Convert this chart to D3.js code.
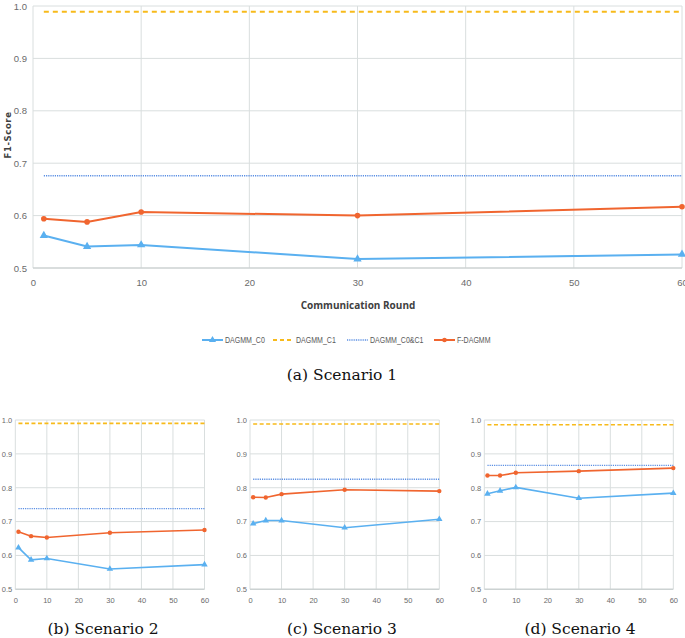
<!DOCTYPE html>
<html>
<head>
<meta charset="utf-8">
<script src="https://cdn.jsdelivr.net/npm/d3@7"></script>
<style>
  html, body { margin: 0; padding: 0; background: #fff; }
  svg { display: block; }
</style>
</head>
<body>
<svg id="chart" width="685" height="638"></svg>
<script>
// ---------- data ----------
const rounds = [1, 5, 10, 30, 60];
const xTicks = [0, 10, 20, 30, 40, 50, 60];
const yTicks = [0.5, 0.6, 0.7, 0.8, 0.9, 1.0];
const seriesNames = ["DAGMM_C0", "DAGMM_C1", "DAGMM_C0&C1", "F-DAGMM"];
const captions = ["(a) Scenario 1", "(b) Scenario 2", "(c) Scenario 3", "(d) Scenario 4"];

const c0_s1 = [0.562, 0.541, 0.544, 0.517, 0.526];
const f_s1  = [0.594, 0.588, 0.607, 0.600, 0.617];
const c1_s1 = 0.989;
const c01_s1 = 0.676;

const c0_s2 = [0.623, 0.587, 0.591, 0.560, 0.573];
const f_s2  = [0.670, 0.657, 0.653, 0.667, 0.675];
const c1_s2 = 0.990;
const c01_s2 = 0.738;

const c0_s3 = [0.694, 0.703, 0.703, 0.682, 0.707];
const f_s3  = [0.772, 0.771, 0.781, 0.794, 0.790];
const c1_s3 = 0.988;
const c01_s3 = 0.825;

const c0_s4 = [0.782, 0.791, 0.801, 0.769, 0.784];
const f_s4  = [0.836, 0.836, 0.844, 0.849, 0.858];
const c1_s4 = 0.986;
const c01_s4 = 0.866;

// ---------- styles ----------
const colC0 = "#5AB0F0";
const colC1 = "#F7BA1B";
const colC01 = "#5B8FE3";
const colF = "#F0652F";
const gridCol = "#D9DEDE";
const tickFont = "'Liberation Sans', Arial, sans-serif";
const tickCol = "#6b6b6b";

const svg = d3.select("#chart");

function drawPanel(o) {
  const x = d3.scaleLinear().domain([0, 60]).range([o.left, o.right]);
  const y = d3.scaleLinear().domain([0.5, 1.0]).range([o.bottom, o.top]);
  const g = svg.append("g");

  // grid
  g.append("g").selectAll("line").data(yTicks.slice(1)).join("line")
    .attr("x1", o.left).attr("x2", o.right)
    .attr("y1", d => y(d)).attr("y2", d => y(d))
    .attr("stroke", gridCol).attr("stroke-width", 1);
  g.append("g").selectAll("line").data(xTicks).join("line")
    .attr("x1", d => x(d)).attr("x2", d => x(d))
    .attr("y1", o.top).attr("y2", o.bottom)
    .attr("stroke", gridCol).attr("stroke-width", 1);
  // bottom axis line
  g.append("line").attr("x1", o.left).attr("x2", o.right)
    .attr("y1", o.bottom).attr("y2", o.bottom)
    .attr("stroke", "#CCD2D2").attr("stroke-width", 1.6);

  // tick labels via d3 axes
  const xAxis = d3.axisBottom(x).tickValues(xTicks).tickFormat(d3.format("d")).tickSize(0).tickPadding(o.xPad);
  const yAxis = d3.axisLeft(y).tickValues(yTicks).tickFormat(d3.format(".1f")).tickSize(0).tickPadding(o.yPad);
  const gx = g.append("g").attr("transform", `translate(0,${o.bottom})`).call(xAxis);
  const gy = g.append("g").attr("transform", `translate(${o.left},0)`).call(yAxis);
  [gx, gy].forEach(a => {
    a.select(".domain").remove();
    a.selectAll("text").attr("font-family", tickFont).attr("font-size", o.fs).attr("fill", tickCol);
  });

  // constant lines
  g.append("line").attr("x1", x(rounds[0])).attr("x2", x(rounds[rounds.length - 1]))
    .attr("y1", y(o.c1)).attr("y2", y(o.c1))
    .attr("stroke", colC1).attr("stroke-width", o.lw).attr("stroke-dasharray", o.dash);
  g.append("line").attr("x1", x(rounds[0])).attr("x2", x(rounds[rounds.length - 1]))
    .attr("y1", y(o.c01)).attr("y2", y(o.c01))
    .attr("stroke", colC01).attr("stroke-width", o.lw * 0.8).attr("stroke-dasharray", "1.2,1");

  const line = d3.line().x((d, i) => x(rounds[i])).y(d => y(d));
  // F-DAGMM
  g.append("path").datum(o.f).attr("d", line).attr("fill", "none")
    .attr("stroke", colF).attr("stroke-width", o.lw);
  g.append("g").selectAll("circle").data(o.f).join("circle")
    .attr("cx", (d, i) => x(rounds[i])).attr("cy", d => y(d)).attr("r", o.mr)
    .attr("fill", colF);
  // C0
  g.append("path").datum(o.c0).attr("d", line).attr("fill", "none")
    .attr("stroke", colC0).attr("stroke-width", o.lw);
  const tri = d3.symbol().type(d3.symbolTriangle).size(o.ms);
  g.append("g").selectAll("path").data(o.c0).join("path")
    .attr("d", tri)
    .attr("transform", (d, i) => `translate(${x(rounds[i])},${y(d)})`)
    .attr("fill", colC0);

  // caption
  svg.append("text").attr("x", o.capX).attr("y", o.capY)
    .attr("text-anchor", "middle")
    .attr("font-family", "'DejaVu Serif', 'Liberation Serif', serif")
    .attr("font-size", 15.5).attr("fill", "#111")
    .text(o.caption);
  return { x, y };
}

// ---------- Panel (a) ----------
drawPanel({
  left: 33, right: 682, top: 6, bottom: 268,
  c0: c0_s1, f: f_s1, c1: c1_s1, c01: c01_s1,
  fs: 9.5, xPad: 11, yPad: 6, lw: 2, mr: 2.8, ms: 30, dash: "5,4",
  caption: captions[0], capX: 342, capY: 380
});

// y-axis title and x-axis title
svg.append("text")
  .attr("transform", "translate(11,135) rotate(-90)")
  .attr("text-anchor", "middle")
  .attr("font-family", "'DejaVu Sans', sans-serif").attr("font-weight", "bold")
  .attr("font-size", 8.5).attr("letter-spacing", 0.6).attr("fill", "#404040")
  .text("F1-Score");
svg.append("text")
  .attr("x", 358).attr("y", 309)
  .attr("text-anchor", "middle")
  .attr("font-family", "'Open Sans', 'Liberation Sans', sans-serif").attr("font-weight", "bold")
  .attr("font-size", 10).attr("fill", "#404040")
  .text("Communication Round");

// legend
const legItems = [
  { name: seriesNames[0], col: colC0, x: 202, kind: "tri" },
  { name: seriesNames[1], col: colC1, x: 273, kind: "dash" },
  { name: seriesNames[2], col: colC01, x: 347, kind: "dot" },
  { name: seriesNames[3], col: colF, x: 434, kind: "circ" }
];
const leg = svg.append("g");
legItems.forEach(it => {
  const ly = 340;
  const l = leg.append("line").attr("x1", it.x).attr("x2", it.x + 21)
    .attr("y1", ly).attr("y2", ly).attr("stroke", it.col).attr("stroke-width", it.kind === "dot" ? 1.4 : 2);
  if (it.kind === "dash") l.attr("stroke-dasharray", "4,3");
  if (it.kind === "dot") l.attr("stroke-dasharray", "1,0.8");
  if (it.kind === "tri") leg.append("path").attr("d", d3.symbol().type(d3.symbolTriangle).size(22)())
    .attr("transform", `translate(${it.x + 10.5},${ly})`).attr("fill", it.col);
  if (it.kind === "circ") leg.append("circle").attr("cx", it.x + 10.5).attr("cy", ly).attr("r", 2.3).attr("fill", it.col);
  leg.append("text")
    .attr("transform", `translate(${it.x + 23},${ly + 3.2}) scale(0.74,1)`)
    .attr("font-family", tickFont).attr("font-size", 9.5).attr("fill", "#595959")
    .text(it.name);
});

// ---------- Panels (b)(c)(d) ----------
const small = { top: 420, bottom: 589.3, fs: 7.5, xPad: 8, yPad: 3, lw: 1.6, mr: 2.2, ms: 18, dash: "4,2.5", capY: 634 };
drawPanel(Object.assign({}, small, {
  left: 15.3, right: 204.5, c0: c0_s2, f: f_s2, c1: c1_s2, c01: c01_s2,
  caption: captions[1], capX: 103
}));
drawPanel(Object.assign({}, small, {
  left: 250, right: 439.3, c0: c0_s3, f: f_s3, c1: c1_s3, c01: c01_s3,
  caption: captions[2], capX: 342
}));
drawPanel(Object.assign({}, small, {
  left: 484.3, right: 673.3, c0: c0_s4, f: f_s4, c1: c1_s4, c01: c01_s4,
  caption: captions[3], capX: 580
}));
</script>
</body>
</html>
